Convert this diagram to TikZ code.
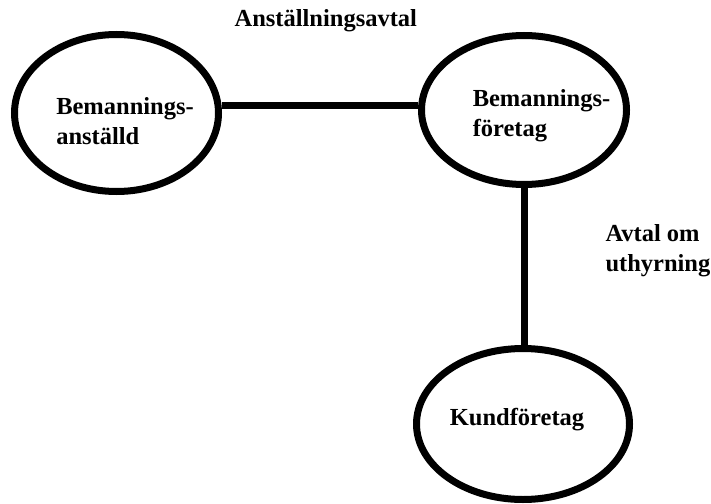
\documentclass[tikz,border=0pt]{standalone}
\usepackage{fontspec}
\setmainfont{Liberation Serif}
\usetikzlibrary{shapes.geometric, positioning}

\begin{document}
\begin{tikzpicture}[
        x=1pt, y=-1pt,
        font=\fontsize{24.5}{30}\selectfont\bfseries,
        party/.style={
            draw,
            ellipse,
            line width=7pt,
            inner sep=0pt
        },
        partytext/.style={
            align=left,
            inner sep=0pt
        },
        link/.style={
            line width=7pt
        },
        labeltext/.style={
            midway,
            align=left,
            inner sep=0pt
        }
    ]
    \useasboundingbox (0,0) rectangle (711,503);

    \node[party, minimum width=204pt, minimum height=157pt,
        label={[partytext, xshift=8.5pt, yshift=-8pt]center:{Bemannings-\\anställd}}] (anstalld) at (116.5,113) {};
    \node[party, minimum width=205pt, minimum height=149pt,
        label={[partytext, xshift=17.5pt, yshift=-6pt]center:{Bemannings-\\företag}}] (bemanftg) at (524,110) {};
    \node[party, minimum width=213pt, minimum height=151pt,
        label={[partytext, xshift=-6pt, yshift=4pt]center:{Kundföretag}}] (kundftg) at (523,424) {};

    \draw[link] (anstalld.4) -- (anstalld.4 -| bemanftg.west)
        node[labeltext, above=70pt, xshift=6pt] {Anställningsavtal};
    \draw[link] (bemanftg.south) -- (bemanftg.south |- kundftg.north)
        node[labeltext, right=78pt, yshift=15.5pt] {Avtal om\\uthyrning};

\end{tikzpicture}
\end{document}
